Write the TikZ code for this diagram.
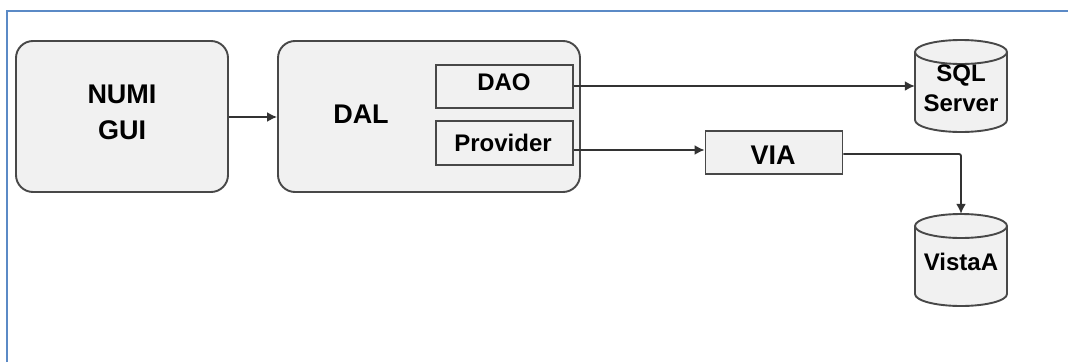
\documentclass[tikz,border=0pt]{standalone}
\usepackage{fontspec}
\setmainfont{Liberation Sans}
\usetikzlibrary{arrows.meta}
\definecolor{framec}{HTML}{5B8AC6}
\definecolor{fillc}{HTML}{F1F1F1}
\definecolor{linec}{HTML}{484848}
\tikzset{
  x=1pt,y=-1pt,
  boxline/.style={draw=linec,line width=1.9pt,fill=fillc},
  roundbox/.style={boxline,rounded corners=17pt,minimum width=212pt,minimum height=151pt,inner sep=0pt,align=center,text=black},
  plainbox/.style={boxline,minimum width=137pt,minimum height=43pt,inner sep=0pt},
  conn/.style={draw=black!80,line width=1.8pt,-{Latex[length=10pt,width=10pt]}},
  biglbl/.style={font=\bfseries\fontsize{27}{36}\selectfont,text=black,align=center},
  smalllbl/.style={font=\bfseries\fontsize{24}{30}\selectfont,text=black,align=center},
  cylspan/.style={minimum width=92pt,minimum height=92pt,inner sep=0pt}
}
\newcommand{\cyl}[2]{% left, top
  \fill[fillc] (#1,#2+12) -- (#1,#2+80) arc[x radius=46pt,y radius=12pt,start angle=180,end angle=360] -- (#1+92,#2+12) arc[x radius=46pt,y radius=12pt,start angle=0,end angle=180] -- cycle;
  \draw[linec,line width=1.9pt] (#1,#2+12) -- (#1,#2+80) arc[x radius=46pt,y radius=12pt,start angle=180,end angle=360] -- (#1+92,#2+12);
  \draw[linec,line width=1.9pt] (#1+46,#2+12) ellipse[x radius=46pt,y radius=12pt];
}
\begin{document}
\begin{tikzpicture}
\useasboundingbox (0,0) rectangle (1068,362);
\fill[white] (0,0) rectangle (1068,362);
\draw[framec,line width=2pt] (7,362) -- (7,11) -- (1068,11);
\node[roundbox] (numi) at (122,116.5) {};
\node[biglbl] (numilbl) at (122,112) {NUMI\\GUI};
\node[roundbox,minimum width=302pt] (dal) at (429,116.5) {};
\node[biglbl] (dallbl) at (361,114) {DAL};
\node[plainbox] (dao) at (504.5,86.5) {};
\node[smalllbl] (daolbl) at (504,82) {DAO};
\node[plainbox,minimum height=44pt] (prov) at (504.5,143) {};
\node[smalllbl] (provlbl) at (503,143) {Provider};
\node[plainbox] (via) at (774,152.5) {};
\node[biglbl] (vialbl) at (773,155) {VIA};
\cyl{915}{40}
\node[cylspan] (sql) at (961,86) {};
\node[smalllbl] (sqllbl) at (961,88) {SQL\\Server};
\cyl{915}{214}
\node[cylspan] (vista) at (961,260) {};
\node[smalllbl] (vistalbl) at (961,262) {VistaA};
\draw[conn] ([yshift=-0.5pt]numi.east) -- ([yshift=-0.5pt]dal.west);
\draw[conn] ([yshift=0.5pt]dao.east) -- (sql.west);
\draw[conn] ([yshift=-7pt]prov.east) -- ([yshift=2.5pt]via.west);
\draw[conn,rounded corners=2pt] ([yshift=-1.5pt]via.east) -| (vista.north);
\end{tikzpicture}
\end{document}
